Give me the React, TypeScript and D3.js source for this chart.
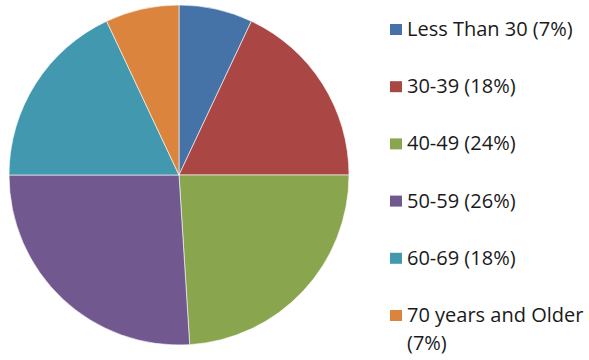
import React from "react";
import * as d3 from "d3";

const categories = ["Less Than 30", "30-39", "40-49", "50-59", "60-69", "70 years and Older"];
const values = [7, 18, 24, 26, 18, 7];
const legendLines = [
  ["Less Than 30 (7%)"],
  ["30-39 (18%)"],
  ["40-49 (24%)"],
  ["50-59 (26%)"],
  ["60-69 (18%)"],
  ["70 years and Older", "(7%)"],
];
const colors = ["#4572A7", "#AA4643", "#89A54E", "#71588F", "#4198AF", "#DB843D"];

export default function App() {
  const W = 589, H = 360;
  const cx = 179, cy = 175, r = 170;
  const pie = d3.pie<number>().sort(null).value((d) => d)(values);
  const arc = d3.arc<d3.PieArcDatum<number>>().innerRadius(0).outerRadius(r);
  const rowY = d3.scaleLinear().domain([0, 5]).range([36, 322]);
  return (
    <svg width={W} height={H} style={{ position: "absolute", left: 0, top: 0, background: "#fff" }}>
      <g transform={`translate(${cx},${cy})`}>
        {pie.map((p, i) => (
          <path key={categories[i]} d={arc(p) || ""} fill={colors[i]} stroke="#ffffff" strokeWidth={0.6} />
        ))}
      </g>
      <g fontFamily="'Open Sans', Lato, sans-serif" fontSize={20} fill="#1a1a1a">
        {legendLines.map((lines, i) => {
          const y = rowY(i);
          return (
            <g key={i}>
              <rect x={390} y={y - 12} width={12} height={11} fill={colors[i]} />
              {lines.map((t, j) => (
                <text key={j} x={407} y={y + j * 28}>{t}</text>
              ))}
            </g>
          );
        })}
      </g>
    </svg>
  );
}
